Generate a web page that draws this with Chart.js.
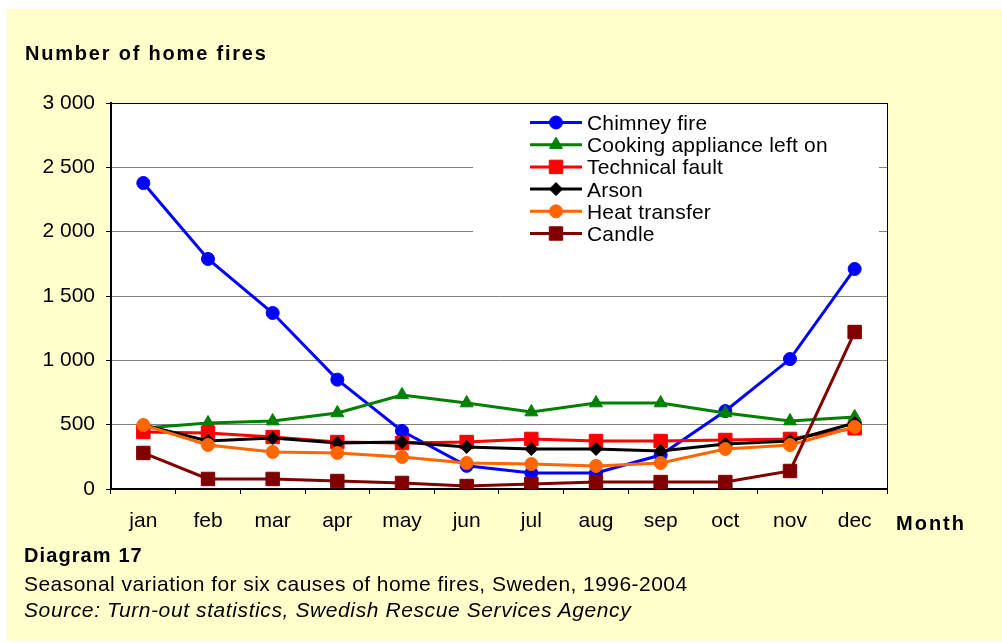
<!DOCTYPE html>
<html>
<head>
<meta charset="utf-8">
<script src="https://cdn.jsdelivr.net/npm/chart.js@4/dist/chart.umd.min.js"></script>
<style>
  body { margin: 0; background: #fff; font-family: "Liberation Sans", Arial, sans-serif; }
  #wrap { position: relative; width: 1002px; height: 643px; overflow: hidden; }
  #panel { position: absolute; left: 7px; top: 9px; width: 995px; height: 632px; background: #ffffcc; }
  #c { position: absolute; left: 0; top: 0; }
  .txt { position: absolute; white-space: nowrap; font-size: 20px; line-height: 20px; color: #000; }
</style>
</head>
<body>
<div id="wrap">
  <div id="panel"></div>
  <canvas id="c" width="1002" height="643"></canvas>
  <div class="txt" style="left:25px; top:43px; font-weight:bold; letter-spacing:1.8px;">Number of home fires</div>
  <div class="txt" style="left:896px; top:513px; font-weight:bold; letter-spacing:2px;">Month</div>
  <div class="txt" style="left:24px; top:545px; font-weight:bold; letter-spacing:1.1px;">Diagram 17</div>
  <div class="txt" style="left:24px; top:574px; font-size:21px; letter-spacing:0.45px;">Seasonal variation for six causes of home fires, Sweden, 1996-2004</div>
  <div class="txt" style="left:24px; top:600px; font-size:21px; font-style:italic; letter-spacing:0.6px;">Source: Turn-out statistics, Swedish Rescue Services Agency</div>
</div>
<script>
const months = ['jan', 'feb', 'mar', 'apr', 'may', 'jun', 'jul', 'aug', 'sep', 'oct', 'nov', 'dec'];

const chimney  = [2378, 1788, 1368, 850, 451, 180, 124, 124, 264, 606, 1010, 1710];
const cooking  = [474, 513, 528, 591, 731, 668, 598, 668, 668, 591, 528, 560];
const technical = [443, 435, 404, 365, 357, 365, 389, 373, 373, 381, 389, 472];
const arson    = [497, 373, 396, 357, 365, 326, 311, 311, 295, 350, 373, 513];
const heat     = [497, 342, 288, 280, 249, 202, 194, 179, 202, 311, 342, 482];
const candle   = [280, 78, 78, 62, 47, 23, 39, 54, 54, 54, 140, 1220];

const yTicks = [0, 500, 1000, 1500, 2000, 2500, 3000];

const names = ['Chimney fire', 'Cooking appliance left on', 'Technical fault', 'Arson', 'Heat transfer', 'Candle'];
const colors = ['#0000ff', '#008000', '#ff0000', '#000000', '#ff6600', '#800000'];
const shapes = ['circle', 'triangle', 'rect', 'rectRot', 'circle', 'rect'];
const radii = [6.5, 7.5, 9.5, 6.5, 6.5, 9.5];
const series = [chimney, cooking, technical, arson, heat, candle];

const FONT = '"Liberation Sans", Arial, sans-serif';

const fmt = v => String(v).replace(/\B(?=(\d{3})+(?!\d))/g, ' ');

// white plot area, box border and the legend sitting inside the plot
const plotBox = {
  id: 'plotBox',
  beforeDraw(chart) {
    const a = chart.chartArea, c = chart.ctx;
    c.save();
    c.fillStyle = '#fff';
    c.fillRect(a.left, a.top, a.right - a.left, a.bottom - a.top);
    c.restore();
  },
  beforeDatasetsDraw(chart) {
    const a = chart.chartArea, c = chart.ctx;
    c.save();
    // legend background hides the grid lines
    c.fillStyle = '#fff';
    c.fillRect(473, a.top + 1, 406, 140);
    c.strokeStyle = '#000';
    c.lineWidth = 1;
    c.beginPath();
    c.moveTo(a.left, a.top + 0.5);
    c.lineTo(a.right, a.top + 0.5);
    c.moveTo(a.right + 0.5, a.top);
    c.lineTo(a.right + 0.5, a.bottom);
    c.stroke();

    chart.data.datasets.forEach((ds, i) => {
      const y = 122.5 + i * 22.2;
      c.strokeStyle = ds.borderColor;
      c.lineWidth = 3;
      c.beginPath();
      c.moveTo(530, y);
      c.lineTo(582, y);
      c.stroke();
      c.fillStyle = ds.borderColor;
      c.strokeStyle = ds.borderColor;
      c.lineWidth = 1;
      Chart.helpers.drawPoint(c, {pointStyle: ds.pointStyle, radius: ds.pointRadius, rotation: 0, borderWidth: 1}, 556, y);
      c.fillStyle = '#000';
      c.font = '21px ' + FONT;
      c.letterSpacing = '0.2px';
      c.textBaseline = 'alphabetic';
      c.textAlign = 'left';
      c.fillText(ds.label, 587, y + 7.5);
    });
    c.restore();
  }
};

const datasets = series.map((s, i) => ({
  label: names[i],
  data: s,
  borderColor: colors[i],
  backgroundColor: colors[i],
  borderWidth: 3,
  pointStyle: shapes[i],
  pointRadius: radii[i],
  pointHoverRadius: radii[i],
  pointBorderWidth: 1,
  pointBorderColor: colors[i],
  pointBackgroundColor: colors[i],
  tension: 0,
  order: 5 - i
}));

new Chart(document.getElementById('c'), {
  type: 'line',
  data: {labels: months, datasets: datasets},
  plugins: [plotBox],
  options: {
    responsive: false,
    devicePixelRatio: 1,
    animation: false,
    events: [],
    layout: {padding: {left: 0, top: 103, right: 115, bottom: 104}},
    plugins: {legend: {display: false}, tooltip: {enabled: false}},
    scales: {
      x: {
        offset: true,
        grid: {offset: true, drawOnChartArea: false, tickLength: 5, tickColor: '#000'},
        border: {color: '#000', width: 2},
        ticks: {color: '#000', font: {family: FONT, size: 21}, padding: 15, maxRotation: 0},
        afterFit: s => { s.height = 50; }
      },
      y: {
        min: 0,
        max: 3000,
        afterBuildTicks: s => { s.ticks = yTicks.map(v => ({value: v})); },
        grid: {
          color: ctx => ctx.tick && ctx.tick.value === 3000 ? '#000' : '#808080',
          tickColor: '#000',
          tickLength: 5
        },
        border: {color: '#000', width: 2},
        ticks: {color: '#000', font: {family: FONT, size: 21}, padding: 11, callback: v => fmt(v)},
        afterFit: s => { s.width = 111; }
      }
    }
  }
});
</script>
</body>
</html>
